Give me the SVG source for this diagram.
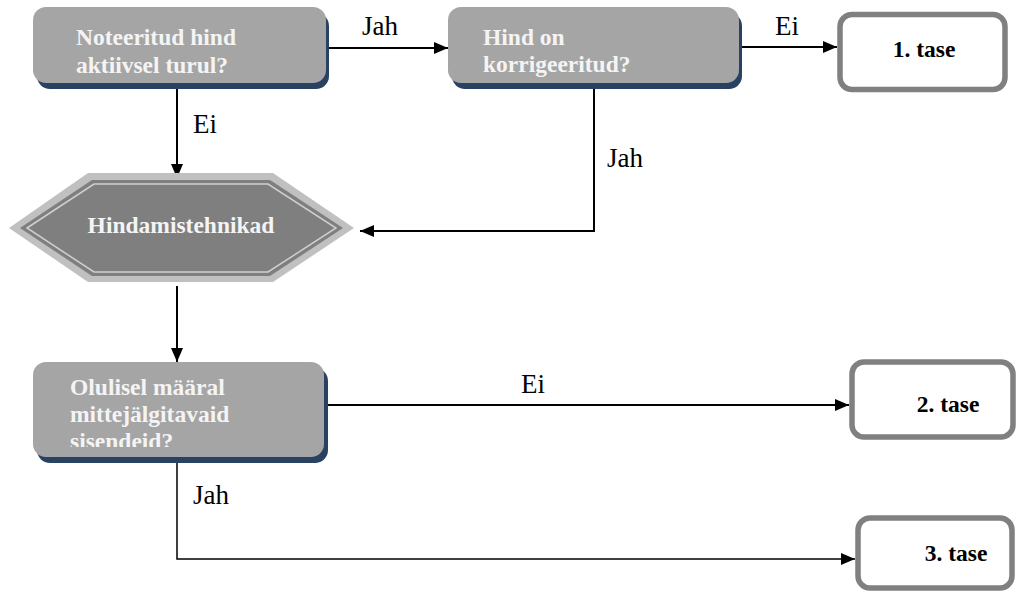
<svg xmlns="http://www.w3.org/2000/svg" width="1018" height="593" viewBox="0 0 1018 593">
<style>
.box{fill:#a5a5a5}
.shadow{fill:#2a4262}
.btxt{font-family:"Liberation Serif","Times New Roman",serif;font-weight:bold;font-size:23.5px;fill:#f4f4f4}
.tase{fill:#fff;stroke:#808080;stroke-width:5.5}
.ttxt{font-family:"Liberation Serif","Times New Roman",serif;font-weight:bold;font-size:23.5px;fill:#000}
.lbl{font-family:"Liberation Serif","Times New Roman",serif;font-size:27px;fill:#000}
.con{fill:none;stroke:#000;stroke-width:2}
.con2{fill:none;stroke:#000;stroke-width:1.5}
</style>
<defs>
<marker id="arr" markerUnits="userSpaceOnUse" markerWidth="14" markerHeight="12" refX="14" refY="6" orient="auto">
<path d="M0,0 L14,6 L0,12 z" fill="#000"/>
</marker>
<clipPath id="clip3"><rect x="34" y="362" width="292" height="85"/></clipPath>
</defs>

<g id="connectors">
<line class="con" x1="327" y1="48" x2="448" y2="48" marker-end="url(#arr)"/>
<line class="con" x1="739" y1="47" x2="837" y2="47" marker-end="url(#arr)"/>
<line class="con" x1="177" y1="89" x2="177" y2="178" marker-end="url(#arr)"/>
<polyline class="con" points="594,83 594,231 360,231" marker-end="url(#arr)"/>
<line class="con" x1="177" y1="286" x2="177" y2="362" marker-end="url(#arr)"/>
<line class="con" x1="327" y1="405" x2="849" y2="405" marker-end="url(#arr)"/>
<polyline class="con2" points="177,462 177,559 855,559" marker-end="url(#arr)"/>
<text class="lbl" x="362" y="35">Jah</text>
<text class="lbl" x="775" y="35">Ei</text>
<text class="lbl" x="193" y="133">Ei</text>
<text class="lbl" x="607" y="167">Jah</text>
<text class="lbl" x="521" y="393">Ei</text>
<text class="lbl" x="193" y="504">Jah</text>
</g>

<g id="n_noteeritud">
<rect class="shadow" x="37" y="13" width="292" height="76" rx="13"/>
<rect class="box" x="33" y="7" width="293" height="76" rx="13"/>
<text class="btxt" x="76" y="45">Noteeritud hind</text>
<text class="btxt" x="76" y="73">aktiivsel turul?</text>
</g>

<g id="n_hind_on">
<rect class="shadow" x="452" y="13" width="290" height="76" rx="13"/>
<rect class="box" x="448" y="7" width="291" height="76" rx="13"/>
<text class="btxt" x="483" y="45">Hind on</text>
<text class="btxt" x="483" y="72">korrigeeritud?</text>
</g>

<g id="n_tase1">
<rect class="tase" x="840" y="14.5" width="165" height="75" rx="12"/>
<text class="ttxt" x="924" y="57" text-anchor="middle">1. tase</text>
</g>

<g id="n_hindamistehnikad">
<polygon points="9,228 88,173 273,173 354,228 273,282 88,282" fill="#c0c0c0"/>
<polygon points="20,228 92,180 270,180 343,228 270,276 92,276" fill="#7f7f7f"/>
<polygon points="27,228 94,184 268,184 336,228 268,272 94,272" fill="none" stroke="#cfcfcf" stroke-width="1.5"/>
<text class="btxt" x="181" y="233" text-anchor="middle">Hindamistehnikad</text>
</g>

<g id="n_olulisel">
<rect class="shadow" x="37" y="368" width="291" height="95" rx="13"/>
<rect class="box" x="33" y="362" width="291" height="95" rx="13"/>
<g clip-path="url(#clip3)">
<text class="btxt" x="70" y="395">Olulisel määral</text>
<text class="btxt" x="70" y="422">mittejälgitavaid</text>
<text class="btxt" x="70" y="449">sisendeid?</text>
</g>
</g>

<g id="n_tase2">
<rect class="tase" x="852" y="362" width="161" height="75" rx="12"/>
<text class="ttxt" x="948" y="412" text-anchor="middle">2. tase</text>
</g>

<g id="n_tase3">
<rect class="tase" x="858" y="518" width="154" height="70" rx="12"/>
<text class="ttxt" x="956" y="561" text-anchor="middle">3. tase</text>
</g>
</svg>
